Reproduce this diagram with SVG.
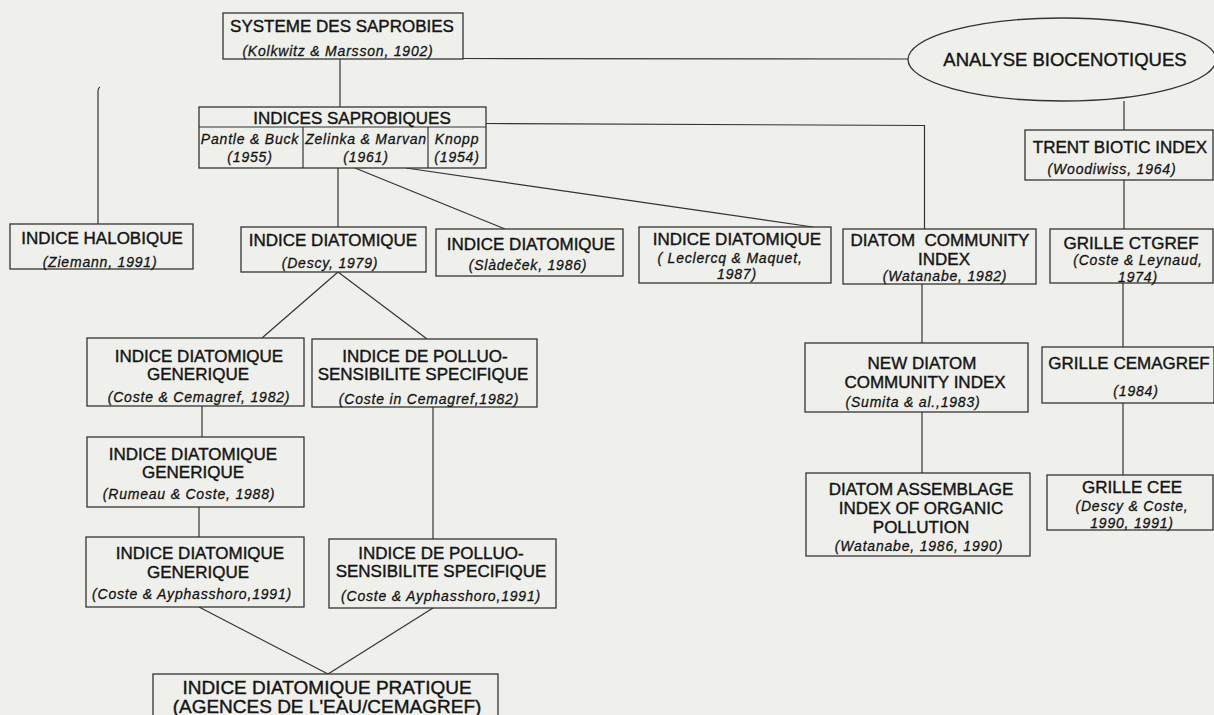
<svg xmlns="http://www.w3.org/2000/svg" width="1214" height="715" viewBox="0 0 1214 715">
<style>
.bg{fill:#eff0eb}
.box{fill:#eff0eb;stroke:#333;stroke-width:1.3}
.ln{fill:none;stroke:#333;stroke-width:1.2}
.t{font-family:"Liberation Sans",Arial,sans-serif;font-size:17px;fill:#141414;stroke:#141414;stroke-width:0.4;text-anchor:middle}
.s{font-family:"Liberation Sans",Arial,sans-serif;font-size:14px;font-style:italic;letter-spacing:0.8px;fill:#141414;stroke:#141414;stroke-width:0.3;text-anchor:middle}
.b{font-family:"Liberation Sans",Arial,sans-serif;font-size:19px;fill:#141414;stroke:#141414;stroke-width:0.4;text-anchor:middle}
</style>
<rect class="bg" x="0" y="0" width="1214" height="715"/>
<g id="connectors">
<line class="ln" x1="340" y1="59" x2="340" y2="107"/>
<line class="ln" x1="463" y1="58.5" x2="908" y2="59"/>
<polyline class="ln" points="486,123.5 924.5,125.5 924.5,229"/>
<line class="ln" x1="338" y1="168" x2="338" y2="227"/>
<line class="ln" x1="355" y1="168" x2="505" y2="229"/>
<line class="ln" x1="406" y1="168" x2="813" y2="227"/>
<path class="ln" d="M98,224 L98,91 Q98,88 100,87"/>
<line class="ln" x1="338" y1="272" x2="262" y2="338"/>
<line class="ln" x1="338" y1="272" x2="427" y2="339"/>
<line class="ln" x1="202" y1="406" x2="202" y2="437"/>
<line class="ln" x1="199" y1="507" x2="199" y2="537"/>
<line class="ln" x1="433" y1="407" x2="433" y2="539"/>
<line class="ln" x1="199" y1="607" x2="328" y2="674"/>
<line class="ln" x1="433" y1="608" x2="328" y2="674"/>
<line class="ln" x1="1124" y1="101" x2="1124" y2="130"/>
<line class="ln" x1="1124" y1="180" x2="1124" y2="229"/>
<line class="ln" x1="1123" y1="283" x2="1123" y2="347"/>
<line class="ln" x1="1123" y1="403" x2="1123" y2="475"/>
<line class="ln" x1="922" y1="284" x2="922" y2="343"/>
<line class="ln" x1="922" y1="412" x2="922" y2="473"/>
</g>
<g id="systeme">
<rect class="box" x="223" y="13" width="240" height="46"/>
<text class="t" x="342" y="32">SYSTEME DES SAPROBIES</text>
<text class="s" x="338" y="56">(Kolkwitz &amp; Marsson, 1902)</text>
</g>
<g id="analyse">
<ellipse class="box" cx="1062" cy="59.5" rx="154" ry="41.5"/>
<text class="t" x="1065" y="66" style="font-size:18.5px">ANALYSE BIOCENOTIQUES</text>
</g>
<g id="indices-saprobiques">
<rect class="box" x="199" y="107" width="287" height="61"/>
<line class="ln" x1="199" y1="127" x2="486" y2="127"/>
<line class="ln" x1="303" y1="127" x2="303" y2="168"/>
<line class="ln" x1="428" y1="127" x2="428" y2="168"/>
<text class="t" x="352" y="124">INDICES SAPROBIQUES</text>
<text class="s" x="250" y="144">Pantle &amp; Buck</text>
<text class="s" x="250" y="162">(1955)</text>
<text class="s" x="366" y="144">Zelinka &amp; Marvan</text>
<text class="s" x="366" y="162">(1961)</text>
<text class="s" x="457" y="144">Knopp</text>
<text class="s" x="457" y="162">(1954)</text>
</g>
<g id="halobique">
<rect class="box" x="10" y="224" width="183" height="45"/>
<text class="t" x="102" y="244">INDICE HALOBIQUE</text>
<text class="s" x="100" y="267">(Ziemann, 1991)</text>
</g>
<g id="descy">
<rect class="box" x="241" y="227" width="185" height="45"/>
<text class="t" x="333" y="246">INDICE DIATOMIQUE</text>
<text class="s" x="330" y="268">(Descy, 1979)</text>
</g>
<g id="sladecek">
<rect class="box" x="436" y="229" width="187" height="47"/>
<text class="t" x="531" y="250">INDICE DIATOMIQUE</text>
<text class="s" x="528" y="270">(Slàdeček, 1986)</text>
</g>
<g id="leclercq">
<rect class="box" x="639" y="227" width="192" height="56"/>
<text class="t" x="737" y="245">INDICE DIATOMIQUE</text>
<text class="s" x="730" y="263">( Leclercq &amp; Maquet,</text>
<text class="s" x="737" y="279">1987)</text>
</g>
<g id="diatom-community">
<rect class="box" x="843" y="229" width="193" height="55"/>
<text class="t" x="940" y="246" xml:space="preserve">DIATOM  COMMUNITY</text>
<text class="t" x="944" y="265">INDEX</text>
<text class="s" x="945" y="281">(Watanabe, 1982)</text>
</g>
<g id="trent">
<rect class="box" x="1025" y="130" width="188" height="50"/>
<text class="t" x="1120" y="153">TRENT BIOTIC INDEX</text>
<text class="s" x="1112" y="174">(Woodiwiss, 1964)</text>
</g>
<g id="ctgref">
<rect class="box" x="1050" y="229" width="163" height="54"/>
<text class="t" x="1131" y="249">GRILLE CTGREF</text>
<text class="s" x="1138" y="265">(Coste &amp; Leynaud,</text>
<text class="s" x="1138" y="282">1974)</text>
</g>
<g id="generique-1982">
<rect class="box" x="87" y="338" width="217" height="68"/>
<text class="t" x="199" y="362">INDICE DIATOMIQUE</text>
<text class="t" x="198" y="380">GENERIQUE</text>
<text class="s" x="199" y="402">(Coste &amp; Cemagref, 1982)</text>
</g>
<g id="polluo-1982">
<rect class="box" x="312" y="339" width="225" height="68"/>
<text class="t" x="425" y="362">INDICE DE POLLUO-</text>
<text class="t" x="423" y="380">SENSIBILITE SPECIFIQUE</text>
<text class="s" x="429" y="404">(Coste in Cemagref,1982)</text>
</g>
<g id="generique-1988">
<rect class="box" x="87" y="437" width="217" height="70"/>
<text class="t" x="193" y="460">INDICE DIATOMIQUE</text>
<text class="t" x="193" y="478">GENERIQUE</text>
<text class="s" x="189" y="499">(Rumeau &amp; Coste, 1988)</text>
</g>
<g id="generique-1991">
<rect class="box" x="86" y="537" width="218" height="70"/>
<text class="t" x="200" y="559">INDICE DIATOMIQUE</text>
<text class="t" x="198" y="578">GENERIQUE</text>
<text class="s" x="192" y="599">(Coste &amp; Ayphasshoro,1991)</text>
</g>
<g id="polluo-1991">
<rect class="box" x="329" y="539" width="227" height="69"/>
<text class="t" x="441" y="559">INDICE DE POLLUO-</text>
<text class="t" x="441" y="577">SENSIBILITE SPECIFIQUE</text>
<text class="s" x="441" y="601">(Coste &amp; Ayphasshoro,1991)</text>
</g>
<g id="pratique">
<rect class="box" x="153" y="674" width="345" height="50"/>
<text class="b" x="327" y="694">INDICE DIATOMIQUE PRATIQUE</text>
<text class="b" x="327" y="713">(AGENCES DE L'EAU/CEMAGREF)</text>
</g>
<g id="new-diatom">
<rect class="box" x="805" y="343" width="223" height="69"/>
<text class="t" x="922" y="369">NEW DIATOM</text>
<text class="t" x="925" y="388">COMMUNITY INDEX</text>
<text class="s" x="913" y="407">(Sumita &amp; al.,1983)</text>
</g>
<g id="cemagref">
<rect class="box" x="1042" y="347" width="172" height="56"/>
<text class="t" x="1129" y="369">GRILLE CEMAGREF</text>
<text class="s" x="1136" y="396">(1984)</text>
</g>
<g id="assemblage">
<rect class="box" x="806" y="473" width="224" height="83"/>
<text class="t" x="921" y="495">DIATOM ASSEMBLAGE</text>
<text class="t" x="921" y="514">INDEX OF ORGANIC</text>
<text class="t" x="921" y="533">POLLUTION</text>
<text class="s" x="919" y="551">(Watanabe, 1986, 1990)</text>
</g>
<g id="cee">
<rect class="box" x="1047" y="475" width="166" height="55"/>
<text class="t" x="1132" y="493">GRILLE CEE</text>
<text class="s" x="1132" y="511">(Descy &amp; Coste,</text>
<text class="s" x="1132" y="528">1990, 1991)</text>
</g>
</svg>
